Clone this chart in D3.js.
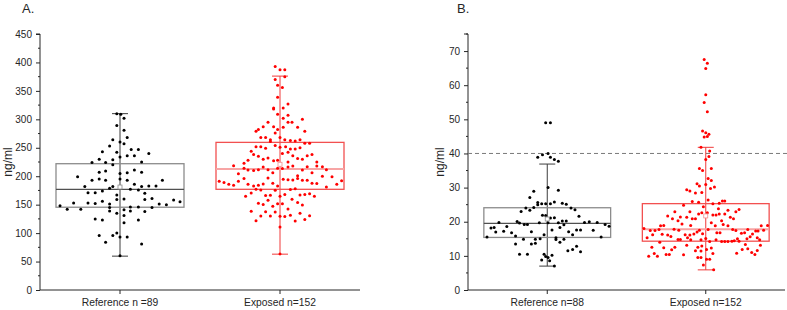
<!DOCTYPE html>
<html>
<head>
<meta charset="utf-8">
<script src="https://cdn.jsdelivr.net/npm/d3@7"></script>
<style>
  html, body { margin: 0; padding: 0; background: #fff; }
  svg { display: block; font-family: "Liberation Sans", Arial, sans-serif; }
  .tick text { fill: #262626; }
</style>
</head>
<body>
<svg id="chart" width="787" height="310"></svg>
<script>
// two panels of box plots with jittered points: A (0-450 ng/ml) and B (0-75 ng/ml, ref line at 40)
const catsA = ["Reference n =89", "Exposed n=152"];
const catsB = ["Reference n=88", "Exposed n=152"];
const yTicksA = [0, 50, 100, 150, 200, 250, 300, 350, 400, 450];
const yMinorA = [25, 75, 125, 175, 225, 275, 325, 375, 425];
const yTicksB = [0, 10, 20, 30, 40, 50, 60, 70];
const yMinorB = [5, 15, 25, 35, 45, 55, 65, 75];
const refLineB = 40;

// box stats: [whisker low, q1, median, q3, whisker high, mean]
const boxRefA = [59.5, 145.5, 177, 222, 310, 181];
const boxExpA = [63, 177, 212.5, 259.5, 376, 221];
const boxRefB = [7.0, 15.4, 19.5, 24.1, 36.9, 20.8];
const boxExpB = [5.9, 14.3, 17.8, 25.3, 41.8, 21.7];

// points: [jitter (fraction of half band), value]
const refA = [[-0.04,310],[0.01,309],[0.05,302],[-0.04,289],[0.05,281],[0.09,268],[-0.09,264],[0,260],[0.05,257],[-0.13,253],
[0.14,247],[0.23,247],[-0.22,243],[-0.04,242],[0.36,240],[0.09,236],[0.18,236],[0,234],[-0.26,230],[-0.09,229],
[-0.35,224],[-0.18,224],[0.27,225],[-0.09,220],[0.18,211],[-0.26,207],[-0.18,209],[0,205],[0.09,206],[0.27,207],
[-0.53,199],[0,195],[0.09,193],[-0.35,193],[-0.26,195],[-0.18,193],[0.53,193],[0.18,186],[-0.44,182],[-0.09,182],
[0.27,182],[0.36,183],[0.45,183],[-0.13,179],[0.13,177],[-0.22,174],[0.23,176],[-0.40,171],[-0.31,171],[-0.04,167],
[0.31,170],[0.05,160],[-0.04,159],[-0.22,156],[0.31,159],[0.40,161],[-0.40,153],[-0.31,152],[-0.58,153],[-0.13,151],
[0.67,158],[0.75,155],[0.49,151],[0.58,150],[-0.75,148],[-0.66,142],[-0.49,142],[-0.13,145],[0.13,146],[0.23,146],
[0.40,145],[-0.13,139],[0.05,141],[0.13,139],[0.31,138],[-0.04,135],[0.05,131],[-0.31,125],[-0.22,123],[0.23,123],
[0.05,118],[-0.26,96],[-0.09,96],[-0.04,100],[0,93],[0.09,93],[-0.18,84],[0.27,81],[0,60]];

const expA = [[-0.06,393],[0,387],[0.06,387],[0.06,375],[-0.06,370],[-0.03,360],[0.03,356],[-0.03,339],[-0.08,320],[-0.08,318],
[0.10,327],[0.04,320],[-0.03,309],[0.10,307],[0.04,302],[0.28,300],[-0.15,295],[0.10,295],[0.15,295],[-0.08,287],
[0.22,286],[-0.21,287],[-0.27,282],[-0.30,279],[-0.03,282],[0.04,286],[0.31,279],[-0.06,276],[-0.24,268],[-0.18,268],
[0,268],[-0.12,264],[0.06,264],[0.13,263],[0.19,262],[0.25,264],[0.31,258],[0.37,258],[-0.12,261],[-0.30,252],
[-0.24,252],[-0.18,249],[-0.06,254],[0,251],[0.07,252],[0.13,248],[0.19,248],[0.25,250],[-0.36,244],[-0.33,238],
[-0.27,235],[-0.21,230],[-0.15,232],[0.03,240],[0.10,242],[0.16,236],[0.22,231],[0.28,230],[0.34,236],[0.40,238],
[-0.40,228],[-0.45,223],[-0.08,227],[-0.03,228],[0.10,225],[0.46,225],
[-0.58,218.5],[-0.45,214],[-0.40,211],[-0.33,210],[-0.27,211.5],[-0.21,216],[-0.15,211.5],[-0.03,214],[0.03,213.5],[0.10,216],
[0.16,218],[0.28,211],[0.34,216.5],[0.46,218],[0.53,216.5],[0.58,211.5],[-0.52,204.5],[0.40,206],[-0.15,197],[-0.09,206],
[0.22,201],[0.65,199],[-0.45,196],[-0.52,191],[0.04,194.5],[0.10,194],[0.16,193.5],[0.22,196],[0.28,193],[0.34,193],
[0.53,200],[0.77,192],[-0.76,191],[-0.70,189],[-0.64,186],[-0.58,184],[-0.40,186],[-0.33,183],[-0.27,184],[-0.21,186.5],
[-0.09,187.5],[-0.03,183],[0.40,187.5],[0.46,187],[0.71,186],[0.58,181],[-0.30,177],[-0.24,176],[-0.06,175.5],[0.13,176.6],
[0.19,178],[-0.36,170.5],[-0.43,164.6],[-0.18,166],[-0.12,166.4],[0,165],[0.06,168],[0.25,167],[0.31,168],[0.37,169],
[0.43,164.6],[-0.15,157.6],[0.15,159.4],[0.22,154],[-0.27,152.3],[-0.21,150.3],[-0.09,147],[-0.03,151.5],[0.03,151.5],[0.28,149.6],
[0.10,142.4],[-0.36,138.3],[-0.18,137.7],[-0.06,137],[0.25,134.7],[-0.24,130],[-0.12,130],[0,129.7],[0.06,129],[0.13,131.5],
[0.37,130.7],[-0.30,121.8],[0.19,121.4],[0.31,124],[0,110.7],[0,63.3]];

const refB = [[-0.02,49.0],[0.04,49.0],[-0.12,38.9],[-0.06,39.6],[0.01,40.0],[0.04,38.9],[0.09,38.2],[0.14,37.7],[0.01,30.0],[0.14,29.2],
[-0.17,28.9],[-0.22,27.1],[-0.33,23.0],[-0.27,24.0],[-0.22,23.4],[-0.17,24.2],[-0.12,25.6],[-0.12,25.0],[-0.07,25.3],[-0.02,25.3],
[0.04,25.3],[0.09,25.8],[0.19,25.4],[0.24,25.1],[0.30,24.0],[0.35,23.5],[0.40,21.6],[-0.06,21.9],[-0.02,21.8],[0.04,21.1],
[0.09,21.2],[0.14,19.7],[-0.38,20.1],[-0.35,19.6],[-0.29,19.2],[-0.25,19.2],[-0.61,19.8],[-0.51,18.6],[-0.71,18.2],[-0.65,17.0],
[-0.55,17.2],[-0.45,16.8],[-0.40,15.8],[-0.76,15.5],[-0.20,17.1],[-0.10,19.7],[0.01,19.7],[0.19,20.2],[0.24,20.2],[0.21,19.1],
[0.27,17.1],[0.32,16.2],[0.37,17.6],[0.42,17.6],[0.47,19.8],[0.53,20.0],[0.58,17.5],[0.63,19.8],[0.73,19.2],[0.78,18.7],
[0.68,15.5],[0.06,17.6],[0.16,18.3],[-0.04,16.2],[-0.30,14.9],[-0.15,14.9],[-0.09,15.0],[0.11,15.3],[0.11,14.8],[0.21,14.9],
[0.16,14.0],[-0.40,13.5],[-0.20,13.5],[-0.15,13.7],[0.26,11.5],[0.32,11.9],[0.37,12.8],[0.42,11.2],[-0.35,10.5],[-0.25,10.5],
[-0.04,10.5],[0.06,10.2],[-0.02,9.8],[0.01,9.5],[-0.07,8.8],[0.03,8.6],[0.09,7.0],[-0.67,18.3]];

const expB = [[-0.02,67.5],[0.02,66.4],[0,64.9],[0,57.2],[-0.02,54.9],[0.02,52.2],[-0.04,46.6],[0,46.1],[0.04,45.6],[0.02,45.0],
[-0.02,44.8],[-0.06,41.8],[0.05,40.7],[0.04,39.1],[0,38.2],
[-0.08,35.6],[-0.04,35.0],[0.07,35.6],[0.03,32.7],[0.07,32.1],[-0.11,31.1],[-0.08,30.5],[0,30.9],[0.06,29.7],[0.11,30.2],
[-0.24,29.4],[-0.20,29.0],[-0.13,28.4],[-0.05,28.6],[0.03,26.4],[-0.17,25.9],[-0.09,25.7],[0.09,25.3],[0.17,25.4],[0.21,26.1],
[0.24,26.1],[-0.28,24.8],[-0.03,24.4],[0.16,23.8],[-0.39,22.9],[-0.20,22.9],[-0.09,22.3],[-0.05,22.6],[0.02,22.6],[0.09,22.0],
[0.13,22.0],[0.17,22.3],[0.28,23.4],[0.24,22.3],[0.38,22.9],[0.42,23.6],[-0.48,21.7],[-0.32,21.4],[-0.42,20.9],[-0.35,20.3],
[-0.24,21.3],[-0.17,20.9],[-0.13,20.9],[0.07,19.7],[0.20,20.3],[0.31,21.3],[0.35,20.9],[0.22,19.2],[-0.53,18.9],[-0.57,18.8],
[-0.30,19.3],[-0.19,18.9],[0.12,18.8],[0.28,18.8],[0.70,18.8],[0.78,18.9],[-0.78,18.0],[-0.70,17.4],[-0.64,17.4],[-0.59,17.7],
[-0.40,17.8],[-0.34,17.5],[-0.08,17.5],[0.03,17.7],[0.34,17.7],[0.38,17.4],[0.53,17.7],[0.66,17.3],[0.73,17.5],[-0.26,16.2],
[-0.20,16.1],[-0.15,16.4],[-0.11,17.0],[-0.04,16.5],[0.14,16.8],[0.18,16.8],[0.45,16.6],[0.49,16.8],[0.59,16.4],[0.63,17.3],
[-0.67,16.2],[-0.55,16.3],[-0.48,16.1],[-0.44,15.7],[-0.74,15.3],[-0.35,14.8],[-0.32,14.8],[-0.23,15.3],[-0.19,14.7],[0,15.1],
[-0.06,14.7],[0.05,14.2],[0.13,14.7],[0.20,14.2],[0.24,14.2],[0.28,14.2],[0.33,14.3],[0.36,14.4],[0.42,14.3],[0.40,15.0],
[0.52,15.0],[0.56,15.6],[0.65,15.3],[0.68,14.7],[-0.58,14.0],[-0.53,12.4],[-0.43,11.8],[-0.39,12.5],[-0.68,12.5],[-0.65,10.7],
[-0.72,9.9],[-0.61,9.9],[-0.50,10.4],[-0.46,10.4],[-0.24,13.1],[-0.28,10.3],[-0.13,11.5],[-0.10,12.5],[-0.05,12.9],[0.01,11.9],
[0.07,12.3],[0.09,10.7],[-0.06,11.4],[-0.10,9.5],[-0.06,9.5],[0.01,9.0],[0.05,9.0],[-0.03,7.3],[0.10,5.9],[0.39,10.8],
[0.46,11.9],[0.50,13.3],[0.53,12.1],[0.58,11.0],[0.62,10.4],[0.65,11.6],[0.69,13.1]];

const styleRef = { point: "#000", box: "#8c8c8c", median: "#505050", whisker: "#3c3c3c", mean: "#8c8c8c", medW: 1.3 };
const styleExp = { point: "#ff0000", box: "#f25050", median: "#f7a5a5", whisker: "#f03a3a", mean: "#f29090", medW: 2 };

const svg = d3.select("#chart");

function panel(o) {
  const g = svg.append("g");
  const x = d3.scaleBand().domain(o.cats).range([o.left, o.right]);
  const y = d3.scaleLinear().domain(o.yDomain).range([290, 34]);
  const bw = x.bandwidth();
  const jit = d3.scaleLinear().domain([-1, 1]).range([-bw / 2, bw / 2]);

  // axes
  const ya = g.append("g").attr("transform", `translate(${o.left},0)`)
    .call(d3.axisLeft(y).tickValues(o.ticks).tickSize(4).tickPadding(4));
  ya.select(".domain").attr("stroke", "#262626");
  ya.selectAll(".tick line").attr("stroke", "#262626");
  ya.selectAll(".tick text").attr("font-size", 10);
  ya.append("g").selectAll("line").data(o.minor).join("line")
    .attr("x1", -2).attr("x2", 0).attr("y1", d => y(d)).attr("y2", d => y(d)).attr("stroke", "#262626");
  ya.select(".domain").attr("d", `M-4,${y(o.yDomain[1])}H0V${y(0)}`);

  const xa = g.append("g").attr("transform", "translate(0,290)")
    .call(d3.axisBottom(x).tickSize(4).tickPadding(5));
  xa.select(".domain").attr("stroke", "#262626").attr("d", `M${o.left},0H${o.right}`);
  xa.selectAll(".tick line").attr("stroke", "#262626");
  xa.selectAll(".tick text").attr("font-size", 10.3);

  g.append("text").attr("transform", `translate(${o.ylabX},162) rotate(-90)`)
    .attr("text-anchor", "middle").attr("dy", "0.35em").attr("font-size", 12).attr("fill", "#262626").text("ng/ml");
  g.append("text").attr("x", o.titleX).attr("y", 13).attr("font-size", 13).attr("fill", "#262626").text(o.title);

  if (o.refLine != null) {
    g.append("line").attr("x1", o.left).attr("x2", o.right + 2).attr("y1", y(o.refLine)).attr("y2", y(o.refLine))
      .attr("stroke", "#7a7a7a").attr("stroke-dasharray", "4,3");
  }

  o.groups.forEach((grp, i) => {
    const cx = x(o.cats[i]) + bw / 2;
    const s = grp.style, b = grp.box;
    const half = bw * 0.4;
    const gg = g.append("g");
    // whisker
    gg.append("line").attr("x1", cx).attr("x2", cx).attr("y1", y(b[0])).attr("y2", y(b[4])).attr("stroke", s.whisker);
    [b[0], b[4]].forEach(v => gg.append("line").attr("x1", cx - 8).attr("x2", cx + 8)
      .attr("y1", y(v)).attr("y2", y(v)).attr("stroke", s.whisker));
    // box
    gg.append("rect").attr("x", cx - half).attr("width", half * 2).attr("y", y(b[3]))
      .attr("height", y(b[1]) - y(b[3])).attr("fill", "none").attr("stroke", s.box).attr("stroke-width", 1.3);
    gg.append("line").attr("x1", cx - half).attr("x2", cx + half).attr("y1", y(b[2])).attr("y2", y(b[2]))
      .attr("stroke", s.median).attr("stroke-width", s.medW);
    // points
    gg.append("g").selectAll("circle").data(grp.pts).join("circle")
      .attr("cx", d => cx + jit(d[0])).attr("cy", d => y(d[1])).attr("r", 1.5).attr("fill", s.point);
    // mean
    gg.append("rect").attr("x", cx - 2).attr("y", y(b[5]) - 2).attr("width", 4).attr("height", 4)
      .attr("fill", "#fff").attr("stroke", s.mean).attr("stroke-width", 0.8);
  });
}

panel({ cats: catsA, left: 40, right: 360, yDomain: [0, 450], ticks: yTicksA, minor: yMinorA,
  ylabX: 8, titleX: 22, title: "A.",
  groups: [{ pts: refA, box: boxRefA, style: styleRef }, { pts: expA, box: boxExpA, style: styleExp }] });
panel({ cats: catsB, left: 468, right: 785, yDomain: [0, 75], ticks: yTicksB, minor: yMinorB,
  ylabX: 440, titleX: 457, title: "B.", refLine: refLineB,
  groups: [{ pts: refB, box: boxRefB, style: styleRef }, { pts: expB, box: boxExpB, style: styleExp }] });
</script>
</body>
</html>
